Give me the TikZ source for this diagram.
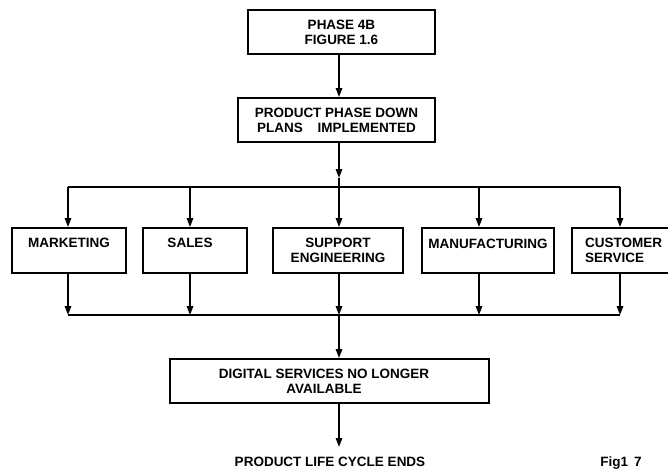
\documentclass[tikz,border=0pt]{standalone}
\usepackage{fontspec}
\setmainfont{Liberation Sans}
\usetikzlibrary{arrows.meta}
\begin{document}
\begin{tikzpicture}[x=1pt,y=-1pt,
  box/.style={draw,line width=2pt,rectangle,inner sep=0pt},
  lbl/.style={inner sep=0pt,align=center,font=\fontsize{13.5}{15}\selectfont\bfseries},
  link/.style={line width=1.5pt},
  arr/.style={link,-{Triangle[width=6.5pt,length=9pt]}}]
\useasboundingbox (0,0) rectangle (668,469);

% boxes
\node[box,minimum width=187pt,minimum height=44pt] (top) at (341.5,32) {};
\node[box,minimum width=197pt,minimum height=44pt] (plan) at (336.5,120) {};
\node[box,minimum width=114pt,minimum height=45pt] (mkt) at (69,250.5) {};
\node[box,minimum width=104pt,minimum height=45pt] (sal) at (195,250.5) {};
\node[box,minimum width=130pt,minimum height=45pt] (sup) at (338,250.5) {};
\node[box,minimum width=132pt,minimum height=45pt] (man) at (488,250.5) {};
\node[box,minimum width=102pt,minimum height=45pt] (cus) at (623,250.5) {};
\node[box,minimum width=319pt,minimum height=44pt] (dig) at (329.5,381) {};

% labels
\node[lbl] (top-t) at (top) {PHASE 4B\\FIGURE 1.6};
\node[lbl] (plan-t) at (plan) {PRODUCT PHASE DOWN\\PLANS\hspace{11pt} IMPLEMENTED};
\node[lbl,anchor=north] (mkt-t) at (69,238) {MARKETING};
\node[lbl,anchor=north] (sal-t) at (190,238) {SALES};
\node[lbl,anchor=north] (sup-t) at (338,238) {SUPPORT\\ENGINEERING};
\node[lbl,anchor=north] (man-t) at (488,239) {MANUFACTURING};
\node[lbl,anchor=north west,align=left] (cus-t) at (585,238) {CUSTOMER\\SERVICE};
\node[lbl] (dig-t) at (324,381) {DIGITAL SERVICES NO LONGER\\AVAILABLE};
\node[lbl,anchor=north] (end-t) at (330,457) {PRODUCT LIFE CYCLE ENDS};
\node[lbl,anchor=north] (fig-t) at (621,457) {Fig1\hspace{6pt}7};

% fan-out bar
\coordinate (t1) at (68,187);
\coordinate (t2) at (190,187);
\coordinate (t3) at (339,187);
\coordinate (t4) at (479,187);
\coordinate (t5) at (620,187);
\coordinate (hub) at (339,178);
% collecting bar
\coordinate (b1) at (68,315);
\coordinate (b2) at (190,315);
\coordinate (b3) at (339,315);
\coordinate (b4) at (479,315);
\coordinate (b5) at (620,315);
\coordinate (fin) at (339,447);

% top chain
\draw[arr] (top.south -| t3) -- (plan.north -| t3);
\draw[arr] (plan.south -| t3) -- (hub);
\draw[link] (t1) -- (t5);
\draw[arr] (hub) -- (sup.north -| t3);
\draw[arr] (t1) -- (t1 |- mkt.north);
\draw[arr] (t2) -- (t2 |- sal.north);
\draw[arr] (t4) -- (t4 |- man.north);
\draw[arr] (t5) -- (t5 |- cus.north);

% bottom collection
\draw[link] (b1) -- (b5);
\draw[arr] (b1 |- mkt.south) -- (b1);
\draw[arr] (b2 |- sal.south) -- (b2);
\draw[arr] (b3 |- sup.south) -- (b3);
\draw[arr] (b4 |- man.south) -- (b4);
\draw[arr] (b5 |- cus.south) -- (b5);
\draw[arr] (b3) -- (dig.north -| b3);
\draw[arr] (dig.south -| fin) -- (fin);
\end{tikzpicture}
\end{document}
